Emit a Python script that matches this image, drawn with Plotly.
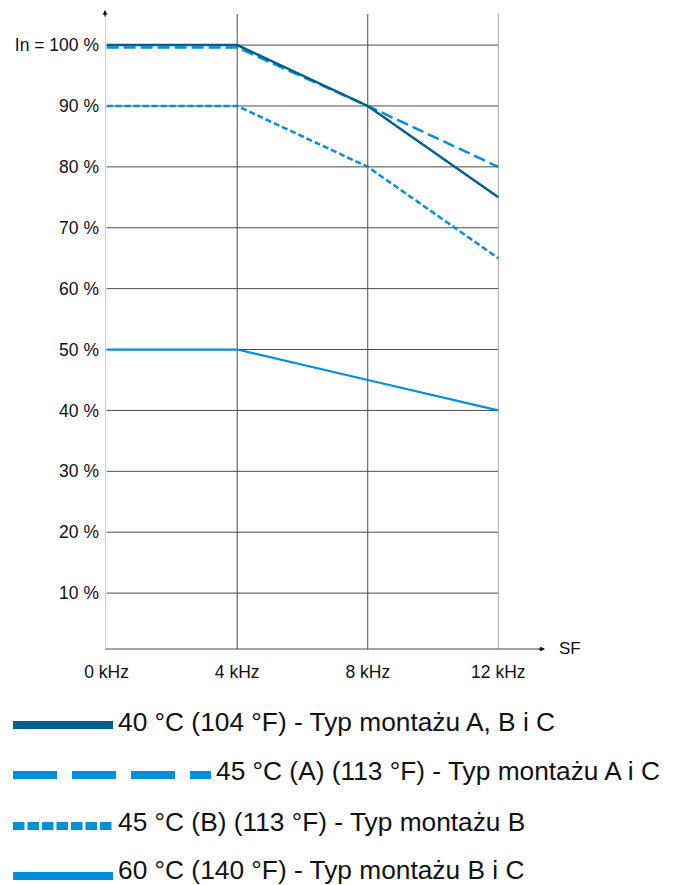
import plotly.graph_objects as go

# ---- data ----
freq_khz = [0, 4, 8, 12]
freq_labels = ["0 kHz", "4 kHz", "8 kHz", "12 kHz"]
pct_ticks = [10, 20, 30, 40, 50, 60, 70, 80, 90, 100]
pct_labels = ["10 %", "20 %", "30 %", "40 %", "50 %", "60 %", "70 %", "80 %", "90 %", "In = 100 %"]

s40 = [100, 100, 90, 75]
s45A = [99.6, 99.6, 90, 80]
s45B = [90, 90, 80, 65]
s60 = [50, 50, 45, 40]

names = [
    "40 °C (104 °F) - Typ montażu A, B i C",
    "45 °C (A) (113 °F) - Typ montażu A i C",
    "45 °C (B) (113 °F) - Typ montażu B",
    "60 °C (140 °F) - Typ montażu B i C",
]

DARK = "#005D8F"
LIGHT = "#008FDA"

W, H = 673, 885
L, R, T, B = 105, 128, 10, 236
PW = W - L - R
PH = H - T - B

XR = [-0.05, 13.43]
YR = [0.82, 105.76]

def px2paper_x(px):
    return (px - L) / PW

def px2paper_y(py):
    return (H - B - py) / PH

fig = go.Figure()

# series (draw 45A below the 40 line)
fig.add_trace(go.Scatter(x=freq_khz, y=s45A, mode="lines", name=names[1],
                         line=dict(color=LIGHT, width=2.5, dash="12px,5px")))
fig.add_trace(go.Scatter(x=freq_khz, y=s40, mode="lines", name=names[0],
                         line=dict(color=DARK, width=2.5)))
fig.add_trace(go.Scatter(x=freq_khz, y=s45B, mode="lines", name=names[2],
                         line=dict(color=LIGHT, width=2.5, dash="6px,3px")))
fig.add_trace(go.Scatter(x=freq_khz, y=s60, mode="lines", name=names[3],
                         line=dict(color=LIGHT, width=2.2)))

shapes = []
# horizontal gridlines (0..12 kHz)
for v in pct_ticks:
    shapes.append(dict(type="line", xref="x", yref="y", x0=0, x1=freq_khz[-1], y0=v, y1=v,
                       line=dict(color="#4A4A4A", width=1), layer="below"))
# vertical gridlines
for f in freq_khz[1:]:
    col = "#A8A8A8" if f == freq_khz[-1] else "#4A4A4A"
    shapes.append(dict(type="line", xref="x", yref="y", x0=f, x1=f, y0=0, y1=105.1,
                       line=dict(color=col, width=1), layer="below"))
# x axis line
shapes.append(dict(type="line", xref="x", yref="paper", x0=XR[0], x1=XR[1] - 0.15, y0=0, y1=0,
                   line=dict(color="#4A4A4A", width=1)))
# y axis line
shapes.append(dict(type="line", xref="x", yref="y", x0=XR[0], x1=XR[0], y0=YR[0], y1=105.0,
                   line=dict(color="#CCCCCC", width=2)))

# legend samples
leg_y = [725, 775, 826, 876]
leg_x1 = [113, 211, 113, 113]
leg_dash = ["solid", "44px,15px", "11.5px,3px", "solid"]
leg_col = [DARK, LIGHT, LIGHT, LIGHT]
for yy, x1, d, c in zip(leg_y, leg_x1, leg_dash, leg_col):
    shapes.append(dict(type="line", xref="paper", yref="paper",
                       x0=px2paper_x(13), x1=px2paper_x(x1),
                       y0=px2paper_y(yy), y1=px2paper_y(yy),
                       line=dict(color=c, width=8, dash=d)))

annotations = []
# legend texts
leg_tx = [116, 214, 116, 116]
leg_ty = [722, 771, 822, 870]
for n, tx, ty in zip(names, leg_tx, leg_ty):
    annotations.append(dict(text=n, xref="paper", yref="paper", x=px2paper_x(tx), y=px2paper_y(ty),
                            xanchor="left", yanchor="middle", showarrow=False,
                            font=dict(family="Liberation Sans, Arial", size=26.3, color="#111111")))
# axis arrows
annotations.append(dict(x=XR[0], y=YR[1], xref="x", yref="y", ax=0, ay=8, showarrow=True,
                        arrowhead=2, arrowsize=0.8, arrowwidth=1.2, arrowcolor="#111111", text=""))
annotations.append(dict(x=XR[1], y=0, xref="x", yref="paper", ax=-8, ay=0, showarrow=True,
                        arrowhead=2, arrowsize=0.8, arrowwidth=1.2, arrowcolor="#111111", text=""))
annotations.append(dict(text="SF", xref="paper", yref="paper", x=px2paper_x(557), y=px2paper_y(648),
                        xanchor="left", yanchor="middle", showarrow=False,
                        font=dict(family="Liberation Sans, Arial", size=17, color="#111111")))

fig.update_layout(
    width=W, height=H,
    margin=dict(l=L, r=R, t=T, b=B),
    paper_bgcolor="white", plot_bgcolor="white",
    showlegend=False,
    shapes=shapes,
    annotations=annotations,
    font=dict(family="Liberation Sans, Arial", size=17.5, color="#111111"),
    xaxis=dict(range=XR, tickvals=freq_khz, ticktext=freq_labels, showgrid=False, zeroline=False,
               showline=False, ticks="", ticklabelstandoff=10, fixedrange=True),
    yaxis=dict(range=YR, tickvals=pct_ticks, ticktext=pct_labels, showgrid=False, zeroline=False,
               showline=False, ticks="", ticklabelstandoff=5, fixedrange=True),
)

fig.write_html("out.html", config={"displayModeBar": False},
               post_script="document.body.style.margin='0';document.body.style.padding='0';")
